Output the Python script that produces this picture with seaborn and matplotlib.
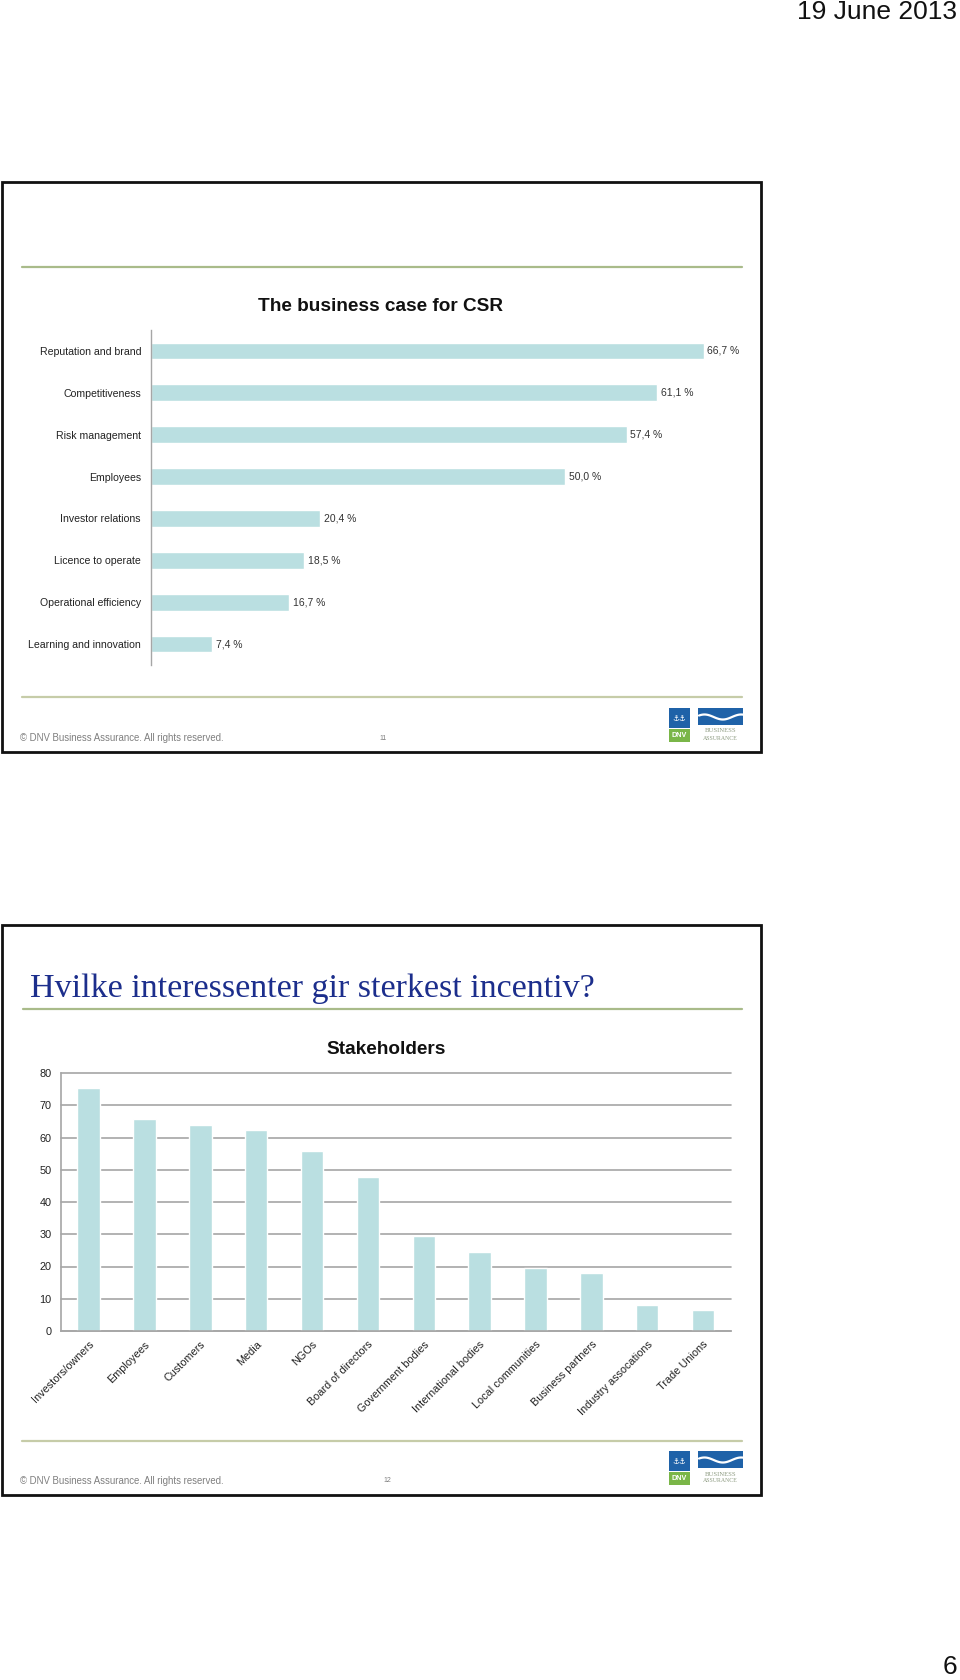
import numpy as np
import pandas as pd
import matplotlib
matplotlib.use("Agg")
import matplotlib.pyplot as plt
from matplotlib.patches import Rectangle
from matplotlib.lines import Line2D
import seaborn as sns

# ---------------- data ----------------
csr_categories = ["Reputation and brand", "Competitiveness", "Risk management", "Employees",
                  "Investor relations", "Licence to operate", "Operational efficiency",
                  "Learning and innovation"]
csr_values = [66.7, 61.1, 57.4, 50.0, 20.4, 18.5, 16.7, 7.4]

stake_categories = ["Investors/owners", "Employees", "Customers", "Media", "NGOs",
                    "Board of directors", "Government bodies", "International bodies",
                    "Local communities", "Business partners", "Industry assocations",
                    "Trade Unions"]
stake_values = [75.5, 65.7, 64.0, 62.3, 55.8, 47.6, 29.5, 24.6, 19.6, 18.0, 8.2, 6.5]
stake_yticks = [0, 10, 20, 30, 40, 50, 60, 70, 80]

# ---------------- style ----------------
sns.set_theme(style="white")
plt.rcParams["font.family"] = ["Liberation Sans", "DejaVu Sans"]

BAR = "#badfe1"
GRID = "#a6a6a6"
GREEN_HEAD = "#a9bb8a"
GREEN_FOOT = "#c6cca8"
GRAY_TXT = "#7f7f7f"

W, H = 960, 1680
fig = plt.figure(figsize=(9.6, 16.8), dpi=100)
fig.patch.set_facecolor("white")


def fx(px):
    return px / W


def fy(py):
    return 1 - py / H


def hline(x0, x1, y, color, lw=1.6):
    fig.add_artist(Line2D([fx(x0), fx(x1)], [fy(y), fy(y)], color=color, lw=lw,
                          transform=fig.transFigure))


def slide_box(y0, y1):
    fig.add_artist(Rectangle((fx(2), fy(y1)), fx(761) - fx(2), (y1 - y0) / H,
                             transform=fig.transFigure, fill=False,
                             edgecolor="#111111", lw=2.0))


def logos(ytop):
    # DNV logo
    fig.add_artist(Rectangle((fx(669), fy(ytop + 20)), 21 / W, 20 / H,
                             transform=fig.transFigure, facecolor="#1f62a8", edgecolor="none"))
    fig.text(fx(679.5), fy(ytop + 10), "⚓⚓", color="white", fontsize=5.5,
             ha="center", va="center", family=["DejaVu Sans"])
    fig.add_artist(Rectangle((fx(669), fy(ytop + 34)), 21 / W, 13 / H,
                             transform=fig.transFigure, facecolor="#7ab648", edgecolor="none"))
    fig.text(fx(679.5), fy(ytop + 27.5), "DNV", color="white", fontsize=5.2,
             fontweight="bold", ha="center", va="center")
    # Business Assurance logo
    fig.add_artist(Rectangle((fx(698), fy(ytop + 17)), 45 / W, 17 / H,
                             transform=fig.transFigure, facecolor="#1f62a8", edgecolor="none"))
    t = np.linspace(0, 1, 60)
    xs = fx(699) + t * (44 / W)
    ys = fy(ytop + 9) + (2.5 / H) * np.sin(2 * np.pi * (t * 1.2 + 0.1))
    fig.add_artist(Line2D(xs, ys, color="white", lw=1.6, transform=fig.transFigure))
    fig.text(fx(720.5), fy(ytop + 23), "BUSINESS", color="#8c9a80", fontsize=4.8,
             ha="center", va="center", family=["Liberation Serif"])
    fig.text(fx(720.5), fy(ytop + 30), "ASSURANCE", color="#8c9a80", fontsize=4.2,
             ha="center", va="center", family=["Liberation Serif"])


# ---------------- page decorations ----------------
fig.text(fx(957), fy(12), "19 June 2013", fontsize=19, ha="right", va="center", color="#111111")
fig.text(fx(957), fy(1667), "6", fontsize=19, ha="right", va="center", color="#111111")

# slide 1
slide_box(182, 752)
hline(22, 742, 267, GREEN_HEAD)
hline(22, 742, 697, GREEN_FOOT)
fig.text(fx(20), fy(738), "© DNV Business Assurance. All rights reserved.", fontsize=6.9,
         color=GRAY_TXT, ha="left", va="center")
fig.text(fx(383), fy(738), "11", fontsize=5, color=GRAY_TXT, ha="center", va="center")
logos(708)
fig.text(fx(381), fy(306.5), "The business case for CSR", fontsize=13.7, fontweight="bold",
         ha="center", va="center", color="#111111")

# slide 2
slide_box(925, 1495)
fig.text(fx(30), fy(997), "Hvilke interessenter gir sterkest incentiv?", fontsize=24.5,
         family=["Liberation Serif", "DejaVu Serif"], color="#1c2e8c", ha="left", va="baseline")
hline(23, 742, 1009, GREEN_HEAD)
hline(22, 742, 1441, GREEN_FOOT)
fig.text(fx(20), fy(1481), "© DNV Business Assurance. All rights reserved.", fontsize=6.9,
         color=GRAY_TXT, ha="left", va="center")
fig.text(fx(387), fy(1481), "12", fontsize=5, color=GRAY_TXT, ha="center", va="center")
logos(1451)
fig.text(fx(386), fy(1049.5), "Stakeholders", fontsize=13.7, fontweight="bold",
         ha="center", va="center", color="#111111")

# ---------------- chart 1: horizontal bars ----------------
ax1 = fig.add_axes([fx(151), fy(665), fx(742) - fx(151), (665 - 330) / H])
df1 = pd.DataFrame({"cat": csr_categories, "val": csr_values})
sns.barplot(data=df1, x="val", y="cat", orient="h", color=BAR, saturation=1,
            width=0.4, ax=ax1)
ax1.set_xlim(0, 71.3)
ax1.set_ylim(7.5, -0.5)
ax1.set_xticks([])
ax1.set_xlabel("")
ax1.set_ylabel("")
for s in ["top", "right", "bottom"]:
    ax1.spines[s].set_visible(False)
ax1.spines["left"].set_color(GRID)
ax1.spines["left"].set_linewidth(1.0)
ax1.tick_params(axis="y", length=0, pad=7.2, labelsize=7.6, labelcolor="#222222")
ax1.set_facecolor("none")
labels1 = [f"{v:.1f}".replace(".", ",") + " %" for v in csr_values]
ax1.bar_label(ax1.containers[0], labels=labels1, padding=2.5, fontsize=7.5, color="#333333")

# ---------------- chart 2: vertical bars ----------------
ax2 = fig.add_axes([fx(60.7), fy(1331), fx(731) - fx(60.7), (1331 - 1073) / H])
df2 = pd.DataFrame({"cat": stake_categories, "val": stake_values})
sns.barplot(data=df2, x="cat", y="val", color=BAR, saturation=1, width=0.4, ax=ax2)
ax2.set_ylim(0, 80)
ax2.set_xlim(-0.5, 11.5)
ax2.set_yticks(stake_yticks)
ax2.set_xlabel("")
ax2.set_ylabel("")
ax2.set_axisbelow(True)
ax2.yaxis.grid(True, color=GRID, lw=1.2, clip_on=False)
ax2.xaxis.grid(False)
for s in ["top", "right"]:
    ax2.spines[s].set_visible(False)
for s in ["left", "bottom"]:
    ax2.spines[s].set_color(GRID)
    ax2.spines[s].set_linewidth(1.2)
ax2.set_facecolor("none")
ax2.tick_params(axis="y", length=0, pad=6.5, labelsize=7.8, labelcolor="#222222")
ax2.tick_params(axis="x", length=0, pad=6.0, labelsize=7.8, labelcolor="#222222")
for lbl in ax2.get_xticklabels():
    lbl.set_rotation(45)
    lbl.set_ha("right")
    lbl.set_rotation_mode("anchor")

fig.savefig("out.png", dpi=100, facecolor="white")
